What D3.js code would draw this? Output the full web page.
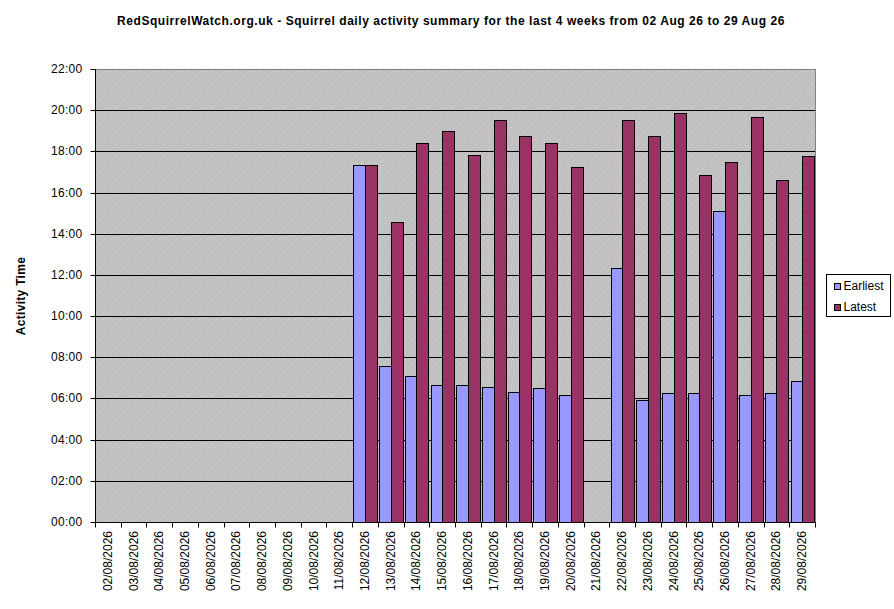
<!DOCTYPE html>
<html>
<head>
<meta charset="utf-8">
<script src="https://cdn.jsdelivr.net/npm/d3@7"></script>
<style>
  body { margin: 0; background: #fff; }
  svg text { font-family: "Liberation Sans", Arial, sans-serif; }
</style>
</head>
<body>
<svg id="chart" width="894" height="609"></svg>
<script>
// days shown on the x axis
var days = ["02/08/2026","03/08/2026","04/08/2026","05/08/2026","06/08/2026","07/08/2026",
  "08/08/2026","09/08/2026","10/08/2026","11/08/2026","12/08/2026","13/08/2026",
  "14/08/2026","15/08/2026","16/08/2026","17/08/2026","18/08/2026","19/08/2026",
  "20/08/2026","21/08/2026","22/08/2026","23/08/2026","24/08/2026","25/08/2026",
  "26/08/2026","27/08/2026","28/08/2026","29/08/2026"]

// hours of day, null = no sighting
var earliest = [null,null,null,null,null,null,null,null,null,null,
  17.32,7.56,7.08,6.64,6.64,6.54,6.30,6.49,6.15,null,
  12.32,5.91,6.25,6.25,15.09,6.15,6.25,6.83]
var latest = [null,null,null,null,null,null,null,null,null,null,
  17.32,14.56,18.41,19.0,17.81,19.52,18.75,18.41,17.23,null,
  19.52,18.73,19.85,16.84,17.47,19.65,16.6,17.76]

var yTicks = [0,2,4,6,8,10,12,14,16,18,20,22]
var seriesNames = ["Earliest","Latest"]
var seriesColors = ["#9999ff","#993366"]

function drawChart(){
  var svg = d3.select("#chart")
  var pLeft = 95, pRight = 815, pTop = 69, pBottom = 522

  var x = d3.scaleBand().domain(days).range([pLeft, pRight])
  var inner = d3.scaleBand().domain(seriesNames).range([0, x.bandwidth()]).paddingInner(0).paddingOuter(0.11)
  var y = d3.scaleLinear().domain([0, 22]).range([pBottom, pTop])

  // speckled grey background
  var defs = svg.append("defs")
  var pat = defs.append("pattern").attr("id","speckle").attr("width",6).attr("height",6)
    .attr("patternUnits","userSpaceOnUse")
  pat.append("rect").attr("width",6).attr("height",6).attr("fill","#c0c0c0")
  pat.append("rect").attr("x",1).attr("y",1).attr("width",1).attr("height",1).attr("fill","#d4d4d4")
  pat.append("rect").attr("x",4).attr("y",3).attr("width",1).attr("height",1).attr("fill","#d0d0d0")
  pat.append("rect").attr("x",2).attr("y",5).attr("width",1).attr("height",1).attr("fill","#d6d6d6")

  svg.append("rect")
    .attr("x", pLeft + 0.5).attr("y", pTop + 0.5)
    .attr("width", pRight - pLeft).attr("height", pBottom - pTop)
    .attr("fill", "url(#speckle)")
    .attr("stroke", "#808080")

  // gridlines
  svg.append("g").selectAll("line")
    .data(yTicks.filter(function(d){ return d > 0 && d < 22 }))
    .enter().append("line")
    .attr("x1", pLeft).attr("x2", pRight)
    .attr("y1", function(d){ return Math.round(y(d)) + 0.5 }).attr("y2", function(d){ return Math.round(y(d)) + 0.5 })
    .attr("stroke", "#000")

  // bars
  var allSeries = [earliest, latest]
  allSeries.forEach(function(vals, s){
    svg.append("g").selectAll("rect")
      .data(vals.map(function(v, i){ return {day: days[i], v: v} }).filter(function(d){ return d.v != null }))
      .enter().append("rect")
      .attr("x", function(d){ return Math.round(x(d.day) + inner(seriesNames[s])) + 0.5 })
      .attr("y", function(d){ return Math.round(y(d.v)) + 0.5 })
      .attr("width", Math.round(inner.bandwidth()))
      .attr("height", function(d){ return Math.round(y(0)) - Math.round(y(d.v)) })
      .attr("fill", seriesColors[s])
      .attr("stroke", "#000")
  })

  // axes
  var yAxis = d3.axisLeft(y).tickValues(yTicks).tickSize(5).tickPadding(8)
    .tickFormat(function(d){ return d3.format("02d")(d) + ":00" })
  var yg = svg.append("g").attr("transform","translate(" + (pLeft + 0.5) + ",0)").call(yAxis)
  yg.selectAll(".tick").attr("transform", function(d){ return "translate(0," + (Math.round(y(d)) + 0.5) + ")" })
  yg.select(".domain").attr("d", "M0," + pTop + "V" + pBottom)
  yg.selectAll("text").attr("font-size", 12).attr("fill", "#000").attr("letter-spacing", 0.3)

  var xg = svg.append("g").attr("transform","translate(0," + (pBottom + 0.5) + ")")
    .call(d3.axisBottom(x).tickSize(0).tickFormat(""))
  xg.select(".domain").attr("d", "M" + pLeft + ",0H" + pRight)
  xg.selectAll("line.sep").data(days.concat([null])).enter().append("line")
    .attr("class","sep")
    .attr("x1", function(d, i){ return Math.round(pLeft + i * x.step()) + 0.5 })
    .attr("x2", function(d, i){ return Math.round(pLeft + i * x.step()) + 0.5 })
    .attr("y1", 0).attr("y2", 5).attr("stroke", "#000")
  svg.append("g").selectAll("text").data(days).enter().append("text")
    .attr("transform", function(d){ return "translate(" + (x(d) + x.bandwidth() / 2 + 4) + "," + (pBottom + 9) + ") rotate(-90)" })
    .attr("text-anchor", "end")
    .attr("font-size", 12)
    .text(function(d){ return d })

  // title and axis label
  svg.append("text")
    .attr("x", 451).attr("y", 25)
    .attr("text-anchor", "middle")
    .attr("font-size", 12).attr("font-weight", "bold")
    .attr("letter-spacing", 0.55)
    .text("RedSquirrelWatch.org.uk - Squirrel daily activity summary for the last 4 weeks from 02 Aug 26 to 29 Aug 26")

  svg.append("text")
    .attr("transform", "translate(25,296) rotate(-90)")
    .attr("text-anchor", "middle")
    .attr("font-size", 12).attr("font-weight", "bold")
    .attr("letter-spacing", 0.3)
    .text("Activity Time")

  // legend
  var lg = svg.append("g").attr("transform", "translate(826.5,274.5)")
  lg.append("rect").attr("width", 64).attr("height", 42).attr("fill", "#fff").attr("stroke", "#000")
  seriesNames.forEach(function(n, i){
    lg.append("rect").attr("x", 8).attr("y", 9 + i * 21).attr("width", 6).attr("height", 6)
      .attr("fill", seriesColors[i]).attr("stroke", "#000")
    lg.append("text").attr("x", 17).attr("y", 15 + i * 21).attr("font-size", 12).text(n)
  })
}

drawChart()
</script>
</body>
</html>
